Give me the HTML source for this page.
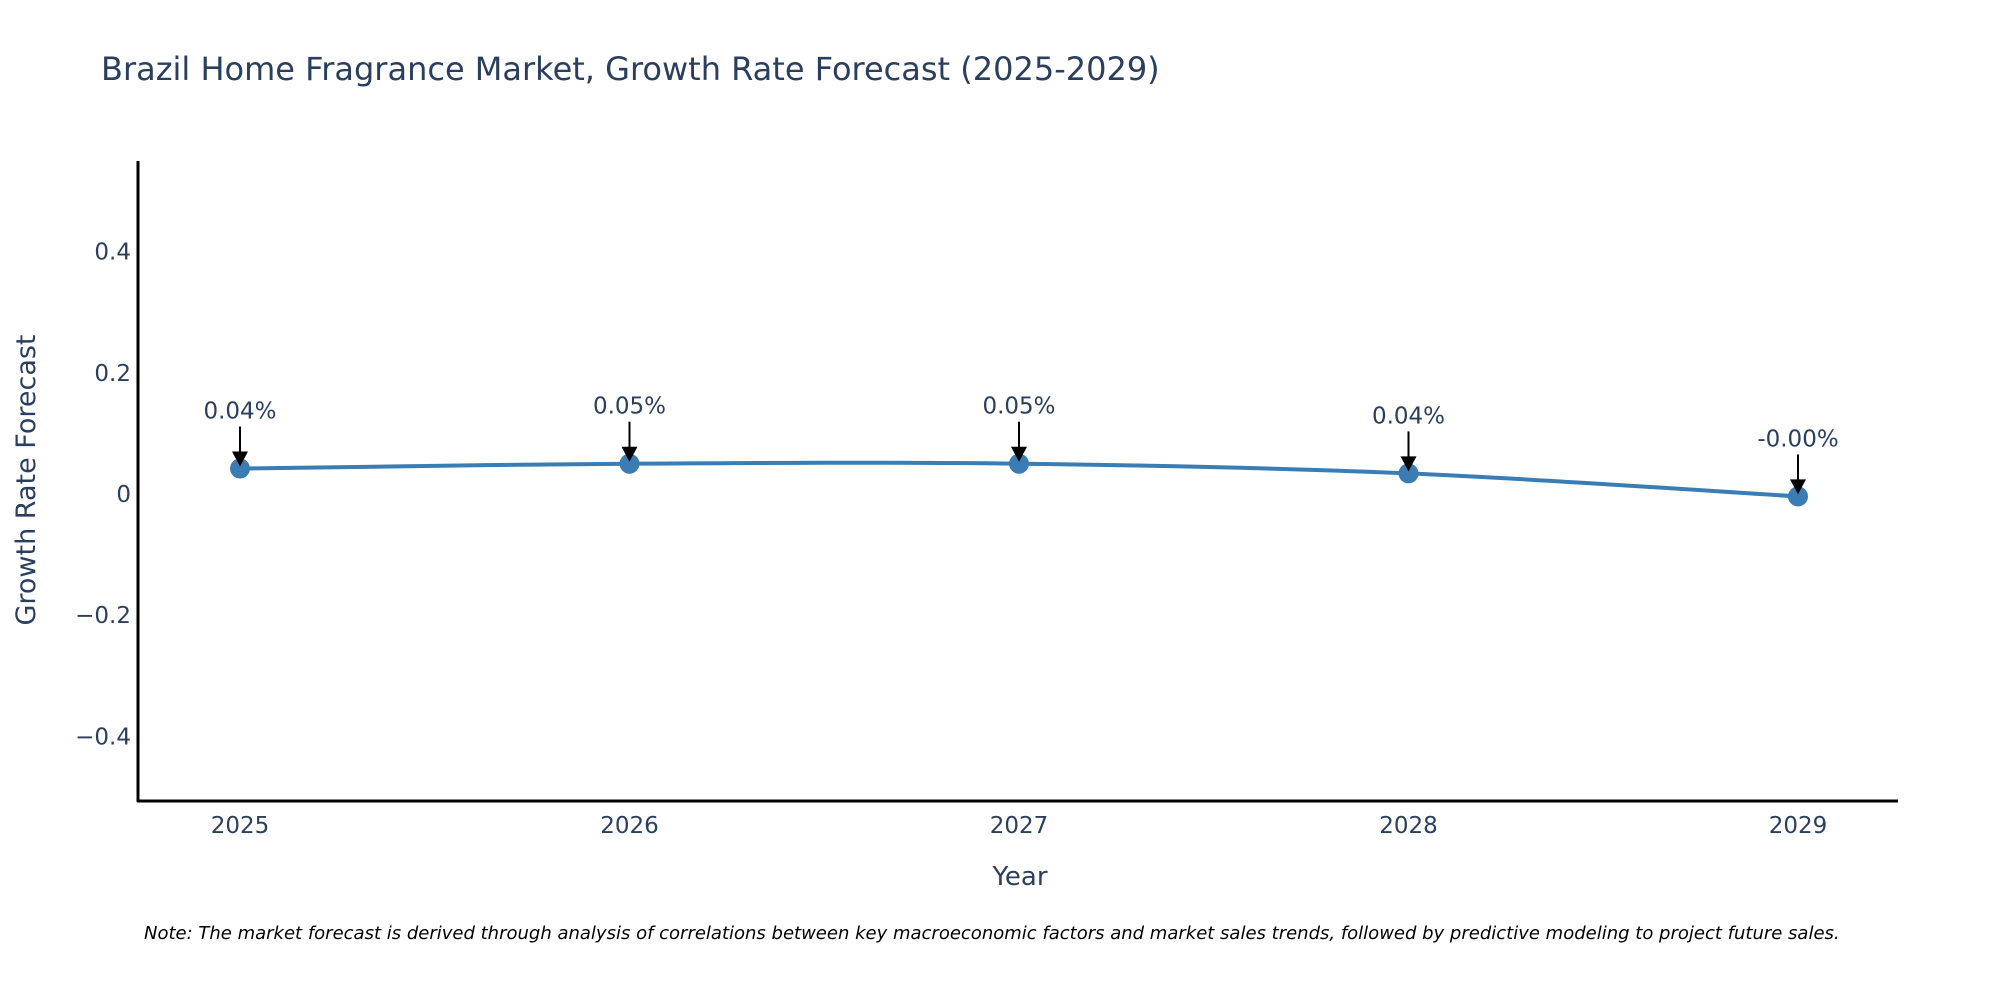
<!DOCTYPE html>
<html><head><meta charset="utf-8"><style>
html,body{margin:0;padding:0;background:#fff;}
svg{display:block;font-family:"DejaVu Sans","Liberation Sans",sans-serif;}
</style></head><body>
<svg id="chart" width="2000" height="1000" viewBox="0 0 2000 1000">
<text x="101" y="80" font-size="32" fill="#2a3f5f">Brazil Home Fragrance Market, Growth Rate Forecast (2025-2029)</text>
<g id="yticks"></g>
<g id="xticks"></g>
<line x1="138" y1="161" x2="138" y2="802" stroke="#000" stroke-width="3"/>
<line x1="137" y1="801" x2="1898" y2="801" stroke="#000" stroke-width="3"/>
<path id="line" fill="none" stroke="#3a7db5" stroke-width="4"/>
<g id="marks"></g>
<g id="annos"></g>
<text x="1020" y="885" font-size="26" fill="#2a3f5f" text-anchor="middle">Year</text>
<text transform="translate(35,480) rotate(-90)" font-size="27" fill="#2a3f5f" text-anchor="middle">Growth Rate Forecast</text>
<text x="144" y="939" font-size="18" font-style="italic" fill="#000">Note: The market forecast is derived through analysis of correlations between key macroeconomic factors and market sales trends, followed by predictive modeling to project future sales.</text>
</svg>
<script>
const years = [2025, 2026, 2027, 2028, 2029];
const values = [0.042, 0.05, 0.05, 0.034, -0.004];
const labels = ["0.04%", "0.05%", "0.05%", "0.04%", "-0.00%"];
const yTicks = [0.4, 0.2, 0, -0.2, -0.4];
const yTickLabels = ["0.4", "0.2", "0", "\u22120.2", "\u22120.4"];
const NS = "http://www.w3.org/2000/svg";
function xs(y){ return 240 + (y - 2025) * 389.5; }
function ys(v){ return 494 - v * 606; }
function mk(tag, attrs, parent){ const e = document.createElementNS(NS, tag); for (const k in attrs) e.setAttribute(k, attrs[k]); parent.appendChild(e); return e; }
const yt = document.getElementById('yticks');
yTicks.forEach((t,i)=>{
  const e = mk('text',{x:131,y:ys(t)+8,'font-size':23,fill:'#2a3f5f','text-anchor':'end'},yt);
  
  
  e.textContent = yTickLabels[i];
});
const xt = document.getElementById('xticks');
years.forEach(y=>{
  const e = mk('text',{x:xs(y),y:833,'font-size':23,fill:'#2a3f5f','text-anchor':'middle'},xt);
  
  
  e.textContent = y;
});
const pts = years.map((y,i)=>[xs(y), ys(values[i])]);
let d = `M${pts[0][0]},${pts[0][1]}`;
for (let i=0;i<pts.length-1;i++){
  const p0 = pts[Math.max(0,i-1)], p1 = pts[i], p2 = pts[i+1], p3 = pts[Math.min(pts.length-1,i+2)];
  const t = 1/6;
  const c1 = [p1[0]+(p2[0]-p0[0])*t, p1[1]+(p2[1]-p0[1])*t];
  const c2 = [p2[0]-(p3[0]-p1[0])*t, p2[1]-(p3[1]-p1[1])*t];
  d += ` C${c1[0]},${c1[1]} ${c2[0]},${c2[1]} ${p2[0]},${p2[1]}`;
}
document.getElementById('line').setAttribute('d', d);
const mg = document.getElementById('marks');
const ag = document.getElementById('annos');
pts.forEach((p,i)=>{
  const c = mk('circle',{cx:p[0],cy:p[1],r:10,fill:'#3a7db5'},mg);
  
  
  const g = mk('g',{},ag);
  
  
  mk('line',{x1:p[0],y1:p[1]-42,x2:p[0],y2:p[1]-14,stroke:'#000','stroke-width':2},g);
  mk('polygon',{points:`${p[0]-8},${p[1]-17} ${p[0]+8},${p[1]-17} ${p[0]},${p[1]-2}`,fill:'#000'},g);
  const t = mk('text',{x:p[0],y:p[1]-50,'font-size':23,fill:'#2a3f5f','text-anchor':'middle'},g);
  t.textContent = labels[i];
});
</script>
</body></html>
